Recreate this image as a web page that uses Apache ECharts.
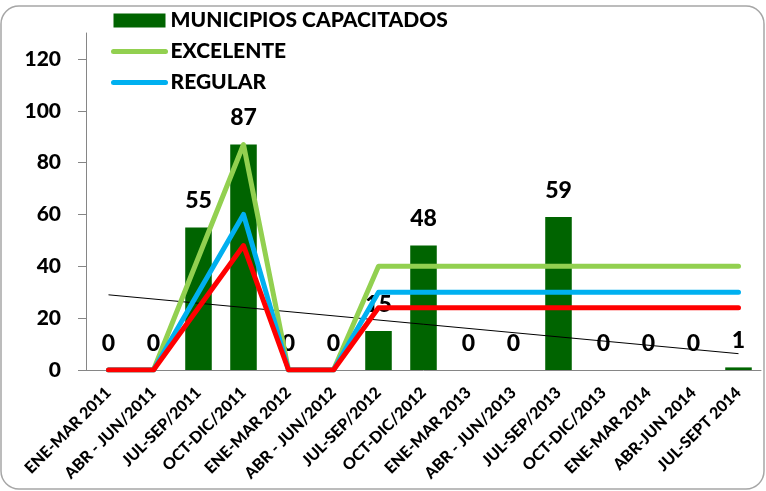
<!DOCTYPE html>
<html>
<head>
<meta charset="utf-8">
<script src="https://cdn.jsdelivr.net/npm/echarts@6/dist/echarts.min.js"></script>
<style>
    html, body { margin: 0; padding: 0; background: #fff; }
    #chart { width: 766px; height: 491px; }
</style>
</head>
<body>
<div id="chart"></div>
<script>
// periods on the x axis
let periods = [
    'ENE-MAR 2011', 'ABR - JUN/2011', 'JUL-SEP/2011', 'OCT-DIC/2011',
    'ENE-MAR 2012', 'ABR - JUN/2012', 'JUL-SEP/2012', 'OCT-DIC/2012',
    'ENE-MAR 2013', 'ABR - JUN/2013', 'JUL-SEP/2013', 'OCT-DIC/2013',
    'ENE-MAR 2014', 'ABR-JUN 2014', 'JUL-SEPT 2014'
];
let municipios = [0, 0, 55, 87, 0, 0, 15, 48, 0, 0, 59, 0, 0, 0, 1];
let excelente = [0, 0, 43.5, 87, 0, 0, 40, 40, 40, 40, 40, 40, 40, 40, 40];
let regular = [0, 0, 30, 60, 0, 0, 30, 30, 30, 30, 30, 30, 30, 30, 30];
let rojo = [0, 0, 24, 48, 0, 0, 24, 24, 24, 24, 24, 24, 24, 24, 24];
// trend line, read at its two ends
let trendEnds = [29, 6.3];
let yTicks = [0, 20, 40, 60, 80, 100, 120];

let font = 'Lato';
let weight = 900;

let trend = periods.map((p, i) => {
    if (i === 0) return trendEnds[0];
    if (i === periods.length - 1) return trendEnds[1];
    return null;
});

let lineSeries = (name, data, color) => ({
    name: name,
    type: 'line',
    data: data,
    symbol: 'none',
    lineStyle: { color: color, width: 5, cap: 'round', join: 'round' },
    itemStyle: { color: color },
    silent: true
});

// legend entry for a line: thick line, no dot
let lineLegend = (name) => ({
    name: name,
    itemStyle: { opacity: 0 },
    lineStyle: { width: 5, cap: 'round' }
});

let option = {
    animation: false,
    textStyle: { fontFamily: font },
    graphic: [{
        type: 'rect',
        shape: { x: 1, y: 6, width: 763, height: 483, r: 18 },
        style: { fill: 'none', stroke: '#a6a6a6', lineWidth: 1.5 },
        z: -1
    }],
    legend: {
        orient: 'vertical',
        left: 111,
        top: 9,
        padding: 0,
        itemWidth: 52,
        itemHeight: 14,
        itemGap: 8,
        data: [
            { name: 'MUNICIPIOS CAPACITADOS', icon: 'rect' },
            lineLegend('EXCELENTE'),
            lineLegend('REGULAR')
        ],
        textStyle: {
            fontFamily: font,
            fontWeight: weight,
            fontSize: 21,
            lineHeight: 23,
            color: '#000'
        }
    },
    grid: { left: 86, right: 5, top: 33, bottom: 121 },
    xAxis: {
        type: 'category',
        data: periods,
        axisLine: { lineStyle: { color: '#868686', width: 1 } },
        axisTick: { length: 5, lineStyle: { color: '#868686' } },
        axisLabel: {
            rotate: 45,
            interval: 0,
            margin: 20,
            fontFamily: font,
            fontWeight: weight,
            fontSize: 16,
            color: '#000'
        }
    },
    yAxis: {
        type: 'value',
        min: 0,
        max: 130,
        interval: 10,
        splitLine: { show: false },
        axisLine: { show: true, lineStyle: { color: '#868686', width: 1 } },
        axisTick: { show: true, length: 8, customValues: yTicks, lineStyle: { color: '#868686' } },
        axisLabel: {
            customValues: yTicks,
            margin: 25,
            fontFamily: font,
            fontWeight: weight,
            fontSize: 21,
            color: '#000'
        }
    },
    series: [
        {
            name: 'MUNICIPIOS CAPACITADOS',
            type: 'bar',
            data: municipios,
            barWidth: '59%',
            itemStyle: { color: '#006400' },
            label: {
                show: true,
                position: 'top',
                distance: 15,
                fontFamily: font,
                fontWeight: weight,
                fontSize: 23,
                color: '#000'
            },
            z: 2
        },
        {
            name: 'tendencia',
            type: 'line',
            data: trend,
            connectNulls: true,
            symbol: 'none',
            lineStyle: { color: '#000', width: 1 },
            silent: true,
            z: 3
        },
        Object.assign(lineSeries('EXCELENTE', excelente, '#92D050'), { z: 4 }),
        Object.assign(lineSeries('REGULAR', regular, '#00B0F0'), { z: 5 }),
        Object.assign(lineSeries('ROJO', rojo, '#FF0000'), { z: 6 })
    ]
};

let me = echarts.init(document.getElementById('chart'));
me.setOption(option);
</script>
</body>
</html>
